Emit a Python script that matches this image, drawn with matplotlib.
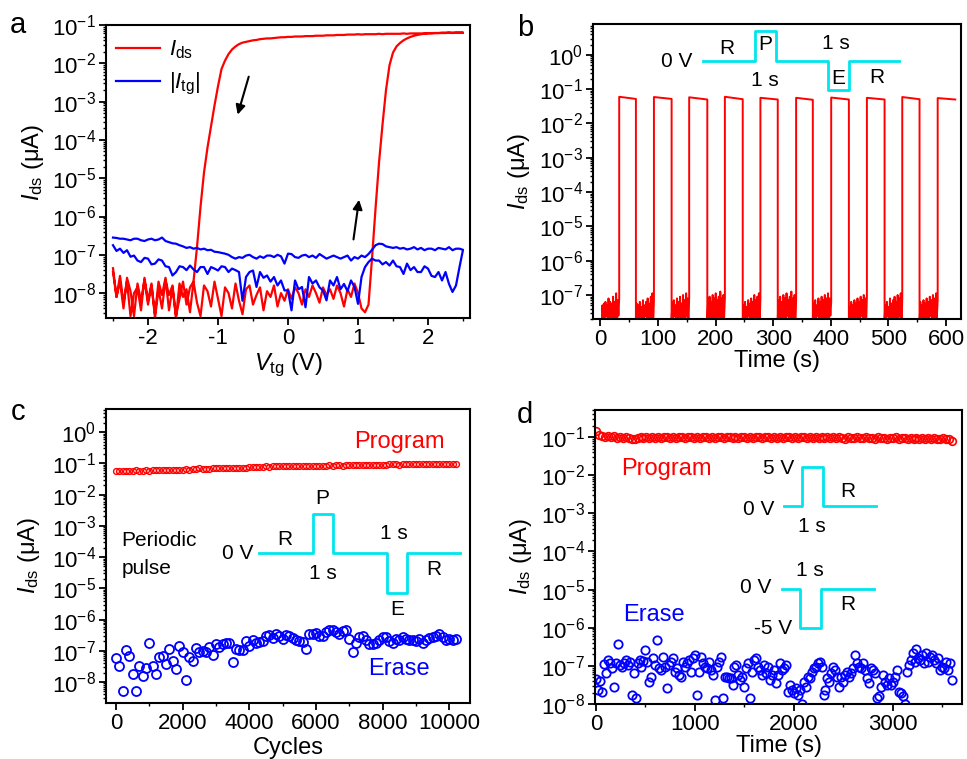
import numpy as np
import matplotlib
matplotlib.use('Agg')
import matplotlib.pyplot as plt
from matplotlib.ticker import LogLocator, MultipleLocator, NullFormatter

plt.rcParams['font.family'] = ['Liberation Sans', 'DejaVu Sans']
plt.rcParams['mathtext.fontset'] = 'custom'
plt.rcParams['mathtext.rm'] = 'Liberation Sans'
plt.rcParams['mathtext.it'] = 'Liberation Sans:italic'
plt.rcParams['mathtext.bf'] = 'Liberation Sans:bold'
plt.rcParams['axes.unicode_minus'] = False

# ---------------- Panel a data (log10 of current, uA) ----------------
va_fwd = np.round(np.linspace(-2.5, 2.5, 101), 2)
va_rev = va_fwd[::-1]
ids_fwd_log = [
    -7.45, -8.10, -7.70, -8.40, -7.60, -7.95, -8.60, -7.75, -8.20, -7.65,
    -8.30, -7.80, -8.55, -7.70, -8.05, -7.60, -8.45, -7.85, -8.65, -7.75,
    -8.10, -7.90, -8.50, -7.70, -8.25, -8.60, -7.80, -7.95, -8.35, -7.70,
    -8.15, -8.60, -7.85, -8.00, -8.40, -7.75, -8.20, -8.55, -7.90, -7.80,
    -8.30, -8.05, -7.85, -8.45, -7.95, -8.10, -7.80, -8.35, -8.00, -8.20,
    -7.90, -8.15, -7.85, -8.00, -8.30, -7.90, -8.10, -7.80, -8.00, -8.25,
    -7.85, -8.05, -7.90, -8.15, -7.80, -8.00, -8.35, -7.90, -8.10, -7.75,
    -8.00, -8.40, -8.50,
    -8.30, -7.10, -5.80, -4.60, -3.60, -2.70, -2.05, -1.72, -1.56, -1.47,
    -1.40, -1.35, -1.31, -1.28, -1.26, -1.24, -1.23, -1.22, -1.21, -1.21,
    -1.21, -1.20, -1.20, -1.20, -1.20, -1.20, -1.20, -1.20]
ids_rev_log = [
    -1.20, -1.20, -1.20, -1.21, -1.20, -1.21, -1.21, -1.21, -1.21, -1.22,
    -1.21, -1.22, -1.22, -1.22, -1.22, -1.22, -1.23, -1.22, -1.23, -1.23,
    -1.23, -1.23, -1.23, -1.24, -1.23, -1.24, -1.24, -1.24, -1.24, -1.25,
    -1.24, -1.25, -1.25, -1.25, -1.26, -1.26, -1.26, -1.27, -1.27, -1.27,
    -1.28, -1.28, -1.28, -1.29, -1.29, -1.29, -1.30, -1.30, -1.30, -1.31,
    -1.31, -1.32, -1.32, -1.33, -1.34, -1.35, -1.35, -1.36, -1.37, -1.39,
    -1.40, -1.42, -1.44,
    -1.46, -1.50, -1.56, -1.64, -1.76, -1.93, -2.15, -2.60, -3.10, -3.65,
    -4.20, -4.85, -5.75, -6.80, -7.70,
    -7.85, -8.30, -7.70, -8.15, -8.60, -7.80, -8.05, -7.65, -8.40, -7.90,
    -8.65, -7.75, -8.20, -7.60, -8.45, -7.85, -8.00, -8.60, -7.70, -8.25,
    -7.55, -8.10, -7.35]
itg_fwd_log = [
    -6.75, -6.90, -6.84, -6.95, -6.88, -7.05, -7.02, -7.15, -7.19, -7.08,
    -7.10, -7.25, -7.23, -7.12, -7.15, -7.30, -7.32, -7.54, -7.45, -7.30,
    -7.32, -7.40, -7.28, -7.38, -7.45, -7.32, -7.32, -7.50, -7.32, -7.36,
    -7.41, -7.30, -7.32, -7.45, -7.36, -7.40, -7.45, -8.20, -7.58, -7.45,
    -7.41, -7.84, -7.45, -7.60, -7.54, -7.70, -7.58, -7.80, -7.67, -7.93,
    -7.93, -8.45, -7.67, -7.90, -7.84, -8.37, -7.58, -7.75, -7.67, -7.85,
    -7.93, -8.19, -7.67, -7.80, -7.58, -7.90, -7.76, -7.95, -7.67, -7.84,
    -8.28, -7.58, -7.32, -7.19, -7.10, -7.15, -7.15, -7.25, -7.19, -7.28,
    -7.15, -7.30, -7.32, -7.50, -7.23, -7.40, -7.32, -7.45, -7.45, -7.30,
    -7.36, -7.55, -7.58, -7.45, -7.67, -7.45, -7.76, -7.97, -7.80, -7.32,
    -6.88]
itg_rev_log = [
    -6.87, -6.84, -6.84, -6.88, -6.80, -6.86, -6.84, -6.82, -6.88, -6.84,
    -6.84, -6.88, -6.82, -6.86, -6.80, -6.84, -6.86, -6.82, -6.84, -6.80,
    -6.82, -6.80, -6.78, -6.72, -6.71, -6.75, -6.87, -6.98, -7.06, -7.02,
    -7.10, -7.06, -7.15, -7.02, -7.06, -7.10, -7.06, -7.02, -7.06, -7.10,
    -7.04, -6.98, -7.08, -7.02, -7.06, -7.00, -7.02, -7.08, -7.06, -6.98,
    -6.97, -7.23, -7.04, -7.00, -7.06, -7.02, -7.02, -7.08, -7.04, -7.10,
    -7.06, -7.00, -7.02, -7.08, -7.06, -7.10, -7.06, -7.00, -6.97, -6.95,
    -6.93, -6.92, -6.87, -6.88, -6.84, -6.86, -6.82, -6.84, -6.80, -6.82,
    -6.78, -6.75, -6.71, -6.70, -6.67, -6.64, -6.55, -6.60, -6.62, -6.58,
    -6.60, -6.64, -6.62, -6.58, -6.58, -6.62, -6.60, -6.58, -6.58, -6.56,
    -6.55]

# ---------------- Panel b data ----------------
rise_t = [32.5, 92.8, 154.0, 216.0, 277.7, 339.7, 400.6, 462.6, 524.0, 585.5]
fall_t = [61.5, 123.5, 185.5, 247.0, 307.8, 368.7, 431.3, 493.3, 554.0, 616.0]
start_t = 2.0
on_start = [0.060, 0.059, 0.058, 0.060, 0.056, 0.056, 0.057, 0.056, 0.059, 0.055]
on_end = [0.052, 0.052, 0.050, 0.051, 0.050, 0.049, 0.050, 0.050, 0.051, 0.050]
low_log = [
    [-7.9, -7.3, -7.7, -7.25, -8.0, -7.2, -7.6, -7.3, -7.9, -7.1, -7.7, -7.2, -8.0, -7.25, -7.65, -7.05, -7.9, -7.2, -7.7, -6.95, -8.0, -7.15, -7.6, -7.1],
    [-7.8, -7.25, -8.0, -7.3, -7.65, -7.2, -7.9, -7.35, -7.7, -7.15, -8.0, -7.3, -7.6, -7.2, -7.9, -7.1, -7.7, -7.25, -8.0, -7.05, -7.65, -6.95, -7.9, -7.15],
    [-7.7, -7.2, -7.9, -7.15, -7.6, -7.3, -8.0, -7.1, -7.75, -7.2, -7.9, -7.05, -7.65, -7.25, -8.0, -7.0, -7.7, -7.15, -7.9, -6.95, -7.6, -7.1, -8.0, -7.05],
    [-7.9, -7.15, -7.7, -7.05, -8.0, -7.2, -7.65, -7.0, -7.9, -7.1, -7.75, -6.95, -8.0, -7.15, -7.6, -7.05, -7.9, -6.9, -7.7, -7.1, -8.0, -7.0, -7.65, -7.1],
    [-7.8, -7.3, -8.0, -7.2, -7.7, -7.35, -7.9, -7.15, -7.6, -7.25, -8.0, -7.1, -7.75, -7.2, -7.9, -7.0, -7.65, -7.15, -8.0, -7.05, -7.7, -6.95, -7.9, -7.1],
    [-7.7, -7.15, -7.9, -7.05, -7.65, -7.2, -8.0, -7.0, -7.75, -7.1, -7.9, -6.95, -7.6, -7.15, -8.0, -7.05, -7.7, -6.9, -7.9, -7.1, -7.65, -7.0, -8.0, -7.15],
    [-7.9, -7.25, -7.7, -7.15, -8.0, -7.3, -7.6, -7.1, -7.9, -7.2, -7.75, -7.05, -8.0, -7.15, -7.65, -7.0, -7.9, -7.1, -7.7, -6.95, -8.0, -7.1, -7.6, -7.2],
    [-7.8, -7.35, -8.0, -7.2, -7.7, -7.3, -7.9, -7.15, -7.65, -7.25, -8.0, -7.1, -7.75, -7.2, -7.9, -7.05, -7.6, -7.15, -8.0, -7.0, -7.7, -7.1, -7.9, -7.05],
    [-7.7, -7.3, -7.9, -7.2, -7.6, -7.35, -8.0, -7.1, -7.75, -7.25, -7.9, -7.15, -7.65, -7.05, -8.0, -7.2, -7.7, -7.0, -7.9, -7.1, -7.6, -6.95, -8.0, -7.1],
    [-7.9, -7.2, -7.7, -7.3, -8.0, -7.15, -7.65, -7.25, -7.9, -7.1, -7.75, -7.2, -8.0, -7.05, -7.6, -7.15, -7.9, -7.0, -7.7, -7.1, -8.0, -6.95, -7.65, -7.15],
]

# ---------------- Panel c data ----------------
cycles_step = 100
prog_c_log = [
    -1.24, -1.25, -1.24, -1.23, -1.24, -1.23, -1.22, -1.23, -1.23, -1.22,
    -1.23, -1.22, -1.22, -1.21, -1.22, -1.21, -1.21, -1.20, -1.21, -1.20,
    -1.20, -1.19, -1.20, -1.19, -1.18, -1.16, -1.18, -1.17, -1.18, -1.16,
    -1.15, -1.16, -1.15, -1.16, -1.14, -1.15, -1.15, -1.14, -1.15, -1.14,
    -1.13, -1.12, -1.11, -1.12, -1.11, -1.10, -1.11, -1.10, -1.09, -1.10,
    -1.10, -1.09, -1.10, -1.09, -1.09, -1.08, -1.09, -1.08, -1.08, -1.07,
    -1.07, -1.08, -1.07, -1.07, -1.06, -1.07, -1.06, -1.06, -1.07, -1.06,
    -1.05, -1.06, -1.05, -1.05, -1.06, -1.05, -1.04, -1.05, -1.04, -1.05,
    -1.04, -1.04, -1.03, -1.02, -1.03, -1.04, -1.02, -1.01, -1.03, -1.02,
    -1.02, -1.03, -1.02, -1.03, -1.02, -1.02, -1.03, -1.02, -1.02, -1.02,
    -1.02, -1.01, -1.01]
erase_c_log = [
    -7.22, -7.47, -8.29, -6.96, -7.18, -7.73, -8.29, -7.50, -7.82, -7.55,
    -6.75, -7.50, -7.73, -7.20, -7.18, -7.41, -6.93, -7.33, -7.58, -6.86,
    -7.04, -7.92, -7.20, -7.33, -6.90, -7.05, -7.00, -7.05, -6.88, -7.12,
    -6.79, -6.88, -6.79, -6.75, -6.75, -7.36, -6.93, -6.97, -6.96, -6.69,
    -6.86, -6.64, -6.75, -6.73, -6.69, -6.51, -6.48, -6.59, -6.46, -6.51,
    -6.62, -6.48, -6.51, -6.58, -6.66, -6.68, -6.71, -6.93, -6.46, -6.45,
    -6.44, -6.51, -6.53, -6.40, -6.32, -6.34, -6.40, -6.46, -6.38, -6.32,
    -6.62, -7.04, -6.76, -6.55, -6.54, -6.64, -6.77, -6.79, -6.75, -6.66,
    -6.57, -6.56, -6.67, -6.74, -6.61, -6.64, -6.57, -6.62, -6.64, -6.66,
    -6.67, -6.61, -6.75, -6.64, -6.60, -6.57, -6.51, -6.46, -6.56, -6.64,
    -6.62, -6.64, -6.61]

# ---------------- Panel d data ----------------
prog_d_step = 30
prog_d_log = [
    -0.85, -0.95, -0.98, -1.00, -0.97, -1.01, -0.98, -1.02, -0.99, -1.03,
    -1.00, -1.02, -1.04, -1.06, -1.03, -1.01, -1.03, -1.00, -1.02, -0.99,
    -1.02, -1.00, -1.03, -1.01, -0.99, -1.02, -1.00, -1.03, -1.01, -1.00,
    -1.02, -0.99, -1.01, -1.03, -1.00, -1.02, -1.01, -0.99, -1.02, -1.00,
    -1.03, -1.01, -1.00, -1.02, -0.99, -1.01, -1.03, -1.00, -1.02, -1.01,
    -0.99, -1.02, -1.00, -1.03, -1.01, -1.00, -1.02, -1.01, -0.99, -1.02,
    -1.00, -1.03, -1.01, -1.02, -1.00, -1.01, -1.03, -1.00, -1.02, -1.01,
    -1.00, -1.02, -1.01, -1.03, -1.00, -1.02, -1.01, -1.03, -1.01, -1.02,
    -1.00, -1.03, -1.01, -1.02, -1.04, -1.01, -1.03, -1.02, -1.00, -1.03,
    -1.02, -1.01, -1.03, -1.02, -1.04, -1.01, -1.03, -1.02, -1.04, -1.02,
    -1.03, -1.01, -1.04, -1.02, -1.03, -1.05, -1.02, -1.04, -1.03, -1.05,
    -1.03, -1.04, -1.02, -1.05, -1.03, -1.04, -1.06, -1.03, -1.05, -1.06,
    -1.11]
erase_d_step = 20
erase_d_log = [
    -7.35, -7.62, -7.40, -7.68, -6.95, -7.19, -6.84, -6.92, -7.06, -7.55,
    -6.92, -6.43, -6.98, -7.02, -6.93, -6.85, -6.98, -6.90, -7.76, -7.19,
    -7.85, -6.93, -6.85, -7.02, -6.88, -6.58, -6.89, -7.41, -7.28, -6.80,
    -6.98, -6.32, -7.06, -7.11, -6.76, -7.02, -7.59, -6.98, -6.89, -6.80,
    -7.15, -7.06, -7.24, -7.28, -6.89, -7.02, -6.93, -6.85, -7.15, -6.80,
    -6.71, -7.76, -7.15, -6.76, -6.93, -7.02, -7.06, -6.89, -7.11, -7.24,
    -7.90, -7.02, -6.89, -6.76, -7.85, -7.28, -7.28, -7.33, -7.33, -7.50,
    -7.02, -6.98, -7.24, -7.37, -7.28, -7.55, -7.06, -6.93, -7.85, -7.15,
    -6.85, -6.80, -7.02, -7.11, -7.24, -6.98, -7.19, -7.02, -7.37, -7.24,
    -7.11, -7.46, -7.24, -6.93, -7.11, -7.06, -6.98, -7.68, -7.50, -7.63,
    -7.72, -7.59, -7.76, -7.63, -8.00, -7.41, -7.55, -7.28, -7.33, -7.15,
    -7.06, -7.02, -6.93, -6.89, -7.02, -7.76, -7.63, -7.33, -7.41, -7.19,
    -7.02, -7.11, -7.28, -7.55, -7.28, -7.41, -7.24, -7.15, -7.28, -7.19,
    -7.06, -6.71, -6.93, -7.02, -7.06, -6.93, -7.11, -7.33, -7.46, -7.06,
    -7.11, -7.19, -7.85, -7.80, -7.55, -7.24, -7.41, -7.50, -7.33, -7.50,
    -7.41, -7.28, -7.11, -7.68, -7.72, -7.80, -8.00, -7.15, -6.98, -6.85,
    -6.67, -6.89, -6.56, -6.80, -6.85, -6.71, -6.93, -6.67, -6.89, -6.76,
    -6.71, -6.85, -6.93, -6.80, -7.11, -7.02, -7.06, -6.89, -7.11, -6.93,
    -7.37]

RED = '#FF0000'
BLUE = '#0000FF'
CYAN = '#00E5EE'
W, H = 967, 759
TICK_FS = 16
LABEL_FS = 17

fig = plt.figure(figsize=(W / 100, H / 100), dpi=100)


def px_axes(l, t, r, b):
    return fig.add_axes([l / W, 1 - b / H, (r - l) / W, (b - t) / H])


def style(ax, xmajor, xminor):
    ax.set_yscale('log')
    for s in ax.spines.values():
        s.set_linewidth(1.5)
    ax.xaxis.set_major_locator(MultipleLocator(xmajor))
    ax.xaxis.set_minor_locator(MultipleLocator(xminor))
    ax.yaxis.set_major_locator(LogLocator(base=10, numticks=20))
    ax.yaxis.set_minor_locator(LogLocator(base=10, subs=np.arange(2, 10), numticks=20))
    ax.yaxis.set_minor_formatter(NullFormatter())
    ax.tick_params(which='major', direction='out', length=5, width=1.3,
                   labelsize=TICK_FS, top=False, right=False, pad=2)
    ax.tick_params(which='minor', direction='out', length=2.5, width=1.0,
                   top=False, right=False)


def ftext(x, y, s, **kw):
    fig.text(x / W, 1 - y / H, s, **kw)


ylab = r'$I_{\rm ds}$ (μA)'

# ---------------- Panel a ----------------
axA = px_axes(106, 25, 470, 318)
style(axA, 1, 0.5)
axA.plot(np.concatenate([va_fwd, va_rev]),
         10 ** np.array(ids_fwd_log + ids_rev_log), color=RED, lw=1.6,
         label=r'$I_{\rm ds}$')
axA.plot(np.concatenate([va_fwd, va_rev]),
         10 ** np.array(itg_fwd_log + itg_rev_log), color=BLUE, lw=1.6,
         label=r'|$I_{\rm tg}$|')
axA.set_xlim(-2.6, 2.6)
axA.set_ylim(10 ** -8.65, 1e-1)
axA.set_xlabel(r'$V_{\rm tg}$ (V)', fontsize=LABEL_FS)
axA.set_ylabel(ylab, fontsize=LABEL_FS)
axA.xaxis.set_label_coords(0.5, -0.115)
axA.yaxis.set_label_coords(-0.165, 0.53)
axA.legend(loc='upper left', bbox_to_anchor=(-0.01, 1.0), frameon=False,
           fontsize=16, handlelength=2.0, handletextpad=0.4, labelspacing=0.45,
           borderaxespad=0.2)
axA.annotate('', xy=(-0.73, 10 ** -3.41), xytext=(-0.55, 10 ** -2.28),
             arrowprops=dict(arrowstyle='-|>', color='k', lw=1.5, mutation_scale=14))
axA.annotate('', xy=(1.02, 10 ** -5.49), xytext=(0.93, 10 ** -6.67),
             arrowprops=dict(arrowstyle='-|>', color='k', lw=1.5, mutation_scale=14))

# ---------------- Panel b ----------------
axB = px_axes(593, 24, 961, 319)
style(axB, 100, 50)
tb, ib = [], []
prev = start_t
for k in range(len(rise_t)):
    n = len(low_log[k])
    tb.extend(np.linspace(prev, rise_t[k], n))
    ib.extend(10 ** np.array(low_log[k]))
    tb.extend([rise_t[k], fall_t[k]])
    ib.extend([on_start[k], on_end[k]])
    prev = fall_t[k]
axB.plot(tb, ib, color=RED, lw=1.4)
axB.set_xlim(-13, 626)
axB.set_ylim(10 ** -7.7, 10 ** 0.9)
axB.set_xlabel('Time (s)', fontsize=LABEL_FS)
axB.set_ylabel(ylab, fontsize=LABEL_FS)
axB.xaxis.set_label_coords(0.5, -0.105)
axB.yaxis.set_label_coords(-0.165, 0.5)
tr = axB.transAxes
axB.plot([0.30, 0.44, 0.44, 0.497, 0.497, 0.638, 0.638, 0.697, 0.697, 0.832],
         [0.875, 0.875, 0.977, 0.977, 0.875, 0.875, 0.776, 0.776, 0.875, 0.875],
         transform=tr, color=CYAN, lw=2, clip_on=False)
ins = dict(transform=tr, fontsize=15, ha='center', va='center')
axB.text(0.227, 0.872, '0 V', **ins)
axB.text(0.363, 0.918, 'R', **ins)
axB.text(0.467, 0.929, 'P', **ins)
axB.text(0.660, 0.935, '1 s', **ins)
axB.text(0.467, 0.807, '1 s', **ins)
axB.text(0.667, 0.816, 'E', **ins)
axB.text(0.771, 0.819, 'R', **ins)

# ---------------- Panel c ----------------
axC = px_axes(106, 409, 470, 703)
style(axC, 2000, 1000)
cyc_prog = np.arange(len(prog_c_log)) * cycles_step
cyc_erase = np.arange(len(erase_c_log)) * cycles_step
axC.plot(cyc_prog, 10 ** np.array(prog_c_log), 'o', mfc='none', mec=RED,
         ms=4.2, mew=1.0)
axC.plot(cyc_erase, 10 ** np.array(erase_c_log), 'o', mfc='none', mec=BLUE,
         ms=6.5, mew=1.3)
axC.set_xlim(-300, 10620)
axC.set_ylim(10 ** -8.67, 10 ** 0.74)
axC.set_xlabel('Cycles', fontsize=LABEL_FS)
axC.set_ylabel(ylab, fontsize=LABEL_FS)
axC.xaxis.set_label_coords(0.5, -0.115)
axC.yaxis.set_label_coords(-0.175, 0.5)
tr = axC.transAxes
axC.plot([0.421, 0.568, 0.568, 0.624, 0.624, 0.771, 0.771, 0.826, 0.826, 0.973],
         [0.509, 0.509, 0.642, 0.642, 0.509, 0.509, 0.375, 0.375, 0.509, 0.509],
         transform=tr, color=CYAN, lw=2)
ins = dict(transform=tr, fontsize=15, ha='center', va='center')
axC.text(0.043, 0.554, 'Periodic', transform=tr, fontsize=15, ha='left', va='center')
axC.text(0.043, 0.458, 'pulse', transform=tr, fontsize=15, ha='left', va='center')
axC.text(0.361, 0.507, '0 V', **ins)
axC.text(0.492, 0.557, 'R', **ins)
axC.text(0.595, 0.696, 'P', **ins)
axC.text(0.791, 0.575, '1 s', **ins)
axC.text(0.595, 0.441, '1 s', **ins)
axC.text(0.799, 0.319, 'E', **ins)
axC.text(0.901, 0.455, 'R', **ins)
axC.text(0.806, 0.889, 'Program', transform=tr, fontsize=17, color=RED,
         ha='center', va='center')
axC.text(0.806, 0.115, 'Erase', transform=tr, fontsize=17, color=BLUE,
         ha='center', va='center')

# ---------------- Panel d ----------------
axD = px_axes(595, 410, 962, 704)
style(axD, 1000, 500)
t_prog = np.arange(len(prog_d_log)) * prog_d_step
t_erase = np.arange(len(erase_d_log)) * erase_d_step
axD.plot(t_prog, 10 ** np.array(prog_d_log), 'o', mfc='none', mec=RED,
         ms=5.5, mew=1.2)
axD.plot(t_erase, 10 ** np.array(erase_d_log), 'o', mfc='none', mec=BLUE,
         ms=6.0, mew=1.3)
axD.set_xlim(-10, 3700)
axD.set_ylim(1e-8, 10 ** -0.29)
axD.set_xlabel('Time (s)', fontsize=LABEL_FS)
axD.set_ylabel(ylab, fontsize=LABEL_FS)
axD.xaxis.set_label_coords(0.5, -0.105)
axD.yaxis.set_label_coords(-0.165, 0.5)
tr = axD.transAxes
axD.plot([0.515, 0.563, 0.563, 0.620, 0.620, 0.766],
         [0.673, 0.673, 0.807, 0.807, 0.673, 0.673],
         transform=tr, color=CYAN, lw=2)
axD.plot([0.510, 0.559, 0.559, 0.615, 0.615, 0.761],
         [0.390, 0.390, 0.257, 0.257, 0.390, 0.390],
         transform=tr, color=CYAN, lw=2)
ins = dict(transform=tr, fontsize=15, ha='center', va='center')
axD.text(0.500, 0.801, '5 V', **ins)
axD.text(0.445, 0.660, '0 V', **ins)
axD.text(0.690, 0.722, 'R', **ins)
axD.text(0.590, 0.603, '1 s', **ins)
axD.text(0.586, 0.453, '1 s', **ins)
axD.text(0.439, 0.397, '0 V', **ins)
axD.text(0.690, 0.337, 'R', **ins)
axD.text(0.484, 0.257, '-5 V', **ins)
axD.text(0.195, 0.798, 'Program', transform=tr, fontsize=17, color=RED,
         ha='center', va='center')
axD.text(0.161, 0.303, 'Erase', transform=tr, fontsize=17, color=BLUE,
         ha='center', va='center')

# panel letters
ftext(18, 25, 'a', fontsize=21, ha='center', va='center')
ftext(525, 28, 'b', fontsize=21, ha='center', va='center')
ftext(18, 412, 'c', fontsize=21, ha='center', va='center')
ftext(525, 415, 'd', fontsize=21, ha='center', va='center')

fig.savefig('out.png', dpi=100)
